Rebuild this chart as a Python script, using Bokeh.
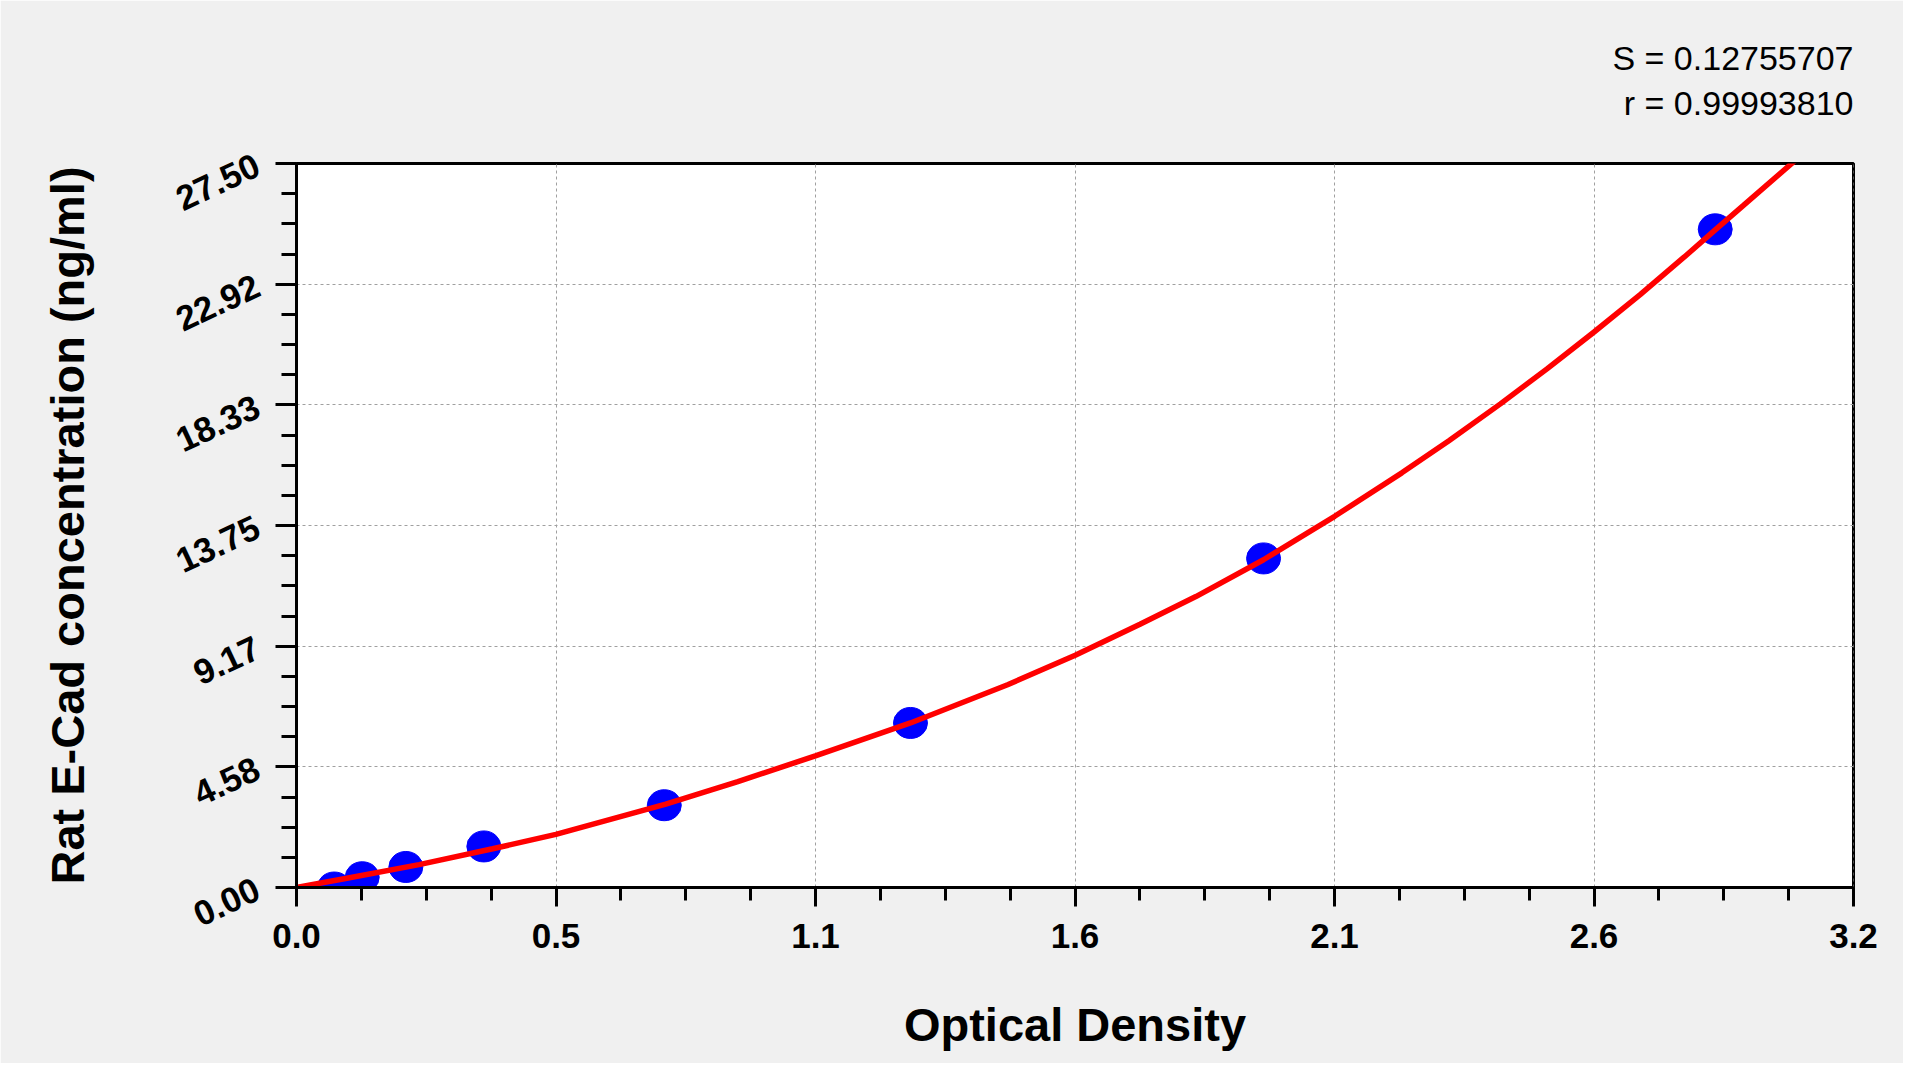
import math
from bokeh.plotting import figure
from bokeh.models import Range1d, FixedTicker, Title
from bokeh.embed import file_html
from bokeh.resources import INLINE

# ---- data ----
od_points = [0.077, 0.134, 0.223, 0.382, 0.750, 1.252, 1.972, 2.893]
conc_points = [0.0, 0.39, 0.78, 1.56, 3.125, 6.25, 12.5, 25.0]

curve_od = [0.0, 0.10, 0.25, 0.40, 0.529, 0.753, 0.90, 1.058, 1.252, 1.45, 1.588,
            1.72, 1.834, 1.972, 2.117, 2.254, 2.35, 2.455, 2.55, 2.646, 2.74,
            2.830, 2.893, 2.95, 3.06]
curve_conc = [0.0, 0.34, 0.87, 1.47, 2.02, 3.17, 4.02, 5.00, 6.25, 7.70, 8.82,
              10.0, 11.05, 12.45, 14.10, 15.75, 16.97, 18.37, 19.70, 21.10, 22.52,
              23.95, 24.98, 25.90, 27.68]

x_tick_labels = ["0.0", "0.5", "1.1", "1.6", "2.1", "2.6", "3.2"]
y_tick_labels = ["0.00", "4.58", "9.17", "13.75", "18.33", "22.92", "27.50"]

x_max = 3.175
y_max = 27.5
stat_lines = ["S = 0.12755707", "r = 0.99993810"]

FONT = "Liberation Sans"

p = figure(width=1903, height=1063, output_backend="svg", toolbar_location=None,
           x_range=Range1d(0, x_max), y_range=Range1d(0, y_max),
           min_border_left=296, min_border_right=50, min_border_top=163,
           min_border_bottom=176)

p.border_fill_color = "#f0f0f0"
p.background_fill_color = "white"
p.outline_line_color = "black"
p.outline_line_width = 3

n = len(x_tick_labels) - 1
x_ticks = [x_max * i / n for i in range(n + 1)]
y_ticks = [y_max * i / n for i in range(n + 1)]
x_minor = [x_max * i / (n * 4) for i in range(n * 4 + 1)]
y_minor = [y_max * i / (n * 4) for i in range(n * 4 + 1)]

p.xaxis.ticker = FixedTicker(ticks=x_ticks, minor_ticks=x_minor)
p.yaxis.ticker = FixedTicker(ticks=y_ticks, minor_ticks=y_minor)
p.xaxis.major_label_overrides = {t: l for t, l in zip(x_ticks, x_tick_labels)}
p.yaxis.major_label_overrides = {t: l for t, l in zip(y_ticks, y_tick_labels)}

for ax in (p.xaxis[0], p.yaxis[0]):
    ax.axis_line_width = 3
    ax.axis_line_color = "black"
    ax.major_tick_line_width = 3
    ax.minor_tick_line_width = 3
    ax.major_tick_line_color = "black"
    ax.minor_tick_line_color = "black"
    ax.major_tick_in = 0
    ax.minor_tick_in = 0
    ax.major_label_text_font = FONT
    ax.major_label_text_font_style = "bold"
    ax.major_label_text_font_size = "35px"
    ax.major_label_text_color = "black"
    ax.axis_label_text_font = FONT
    ax.axis_label_text_font_style = "bold"
    ax.axis_label_text_font_size = "47px"
    ax.axis_label_text_color = "black"

p.xaxis.major_tick_out = 19
p.xaxis.minor_tick_out = 13
p.yaxis.major_tick_out = 21
p.yaxis.minor_tick_out = 15
p.xaxis.major_label_standoff = 17
p.yaxis.major_label_standoff = 18
p.yaxis.major_label_orientation = math.radians(25)

p.xaxis.axis_label = "Optical Density"
p.yaxis.axis_label = "Rat E-Cad concentration (ng/ml)"
p.xaxis.axis_label_standoff = 47
p.yaxis.axis_label_standoff = 71

p.xgrid.ticker = FixedTicker(ticks=x_ticks)
p.ygrid.ticker = FixedTicker(ticks=y_ticks)
for g in (p.xgrid[0], p.ygrid[0]):
    g.grid_line_color = "#a0a0a0"
    g.grid_line_dash = "3 3"
    g.grid_line_width = 1

p.ellipse(x=od_points, y=conc_points, width=34, height=31,
          width_units="screen", height_units="screen",
          fill_color="#0000ff", line_color="#0000ff")
p.line(curve_od, curve_conc, line_color="#ff0000", line_width=5.5)

# statistics text above the frame, right aligned with the frame edge.
# Panels stack outward: blank spacer first, then r, then S.
p.add_layout(Title(text=" ", text_font=FONT, text_font_size="10px",
                   standoff=29), "above")
p.add_layout(Title(text=stat_lines[1], align="right", text_font=FONT,
                   text_font_size="34px", text_font_style="normal",
                   text_color="black", standoff=0), "above")
p.add_layout(Title(text=stat_lines[0], align="right", text_font=FONT,
                   text_font_size="34px", text_font_style="normal",
                   text_color="black", standoff=10), "above")

open("out.html", "w").write(file_html(p, INLINE))
